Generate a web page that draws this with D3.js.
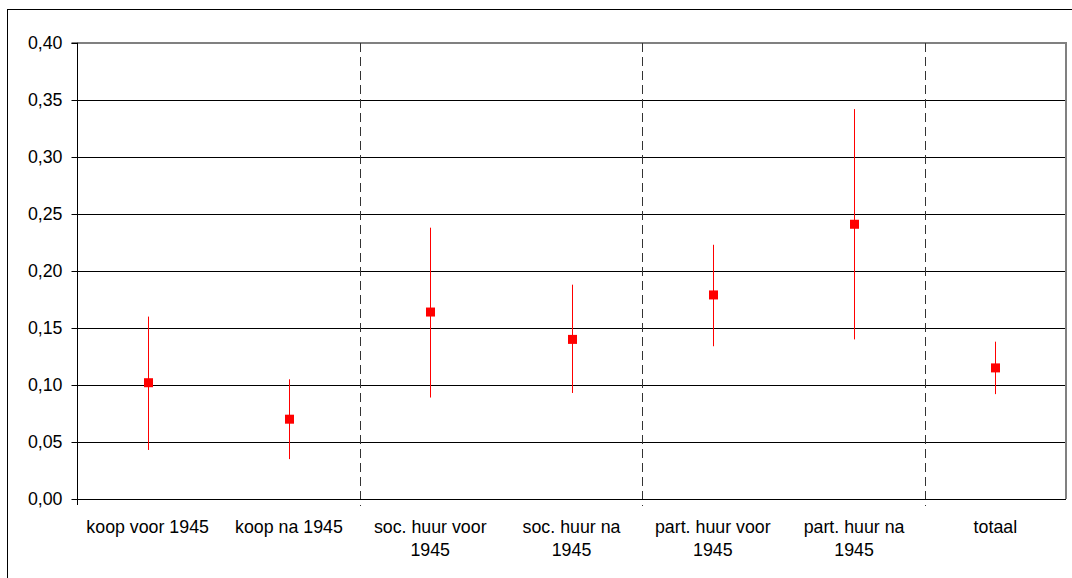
<!DOCTYPE html>
<html><head><meta charset="utf-8">
<script src="https://cdn.jsdelivr.net/npm/d3@7"></script>
<style>
body{margin:0;background:#fff;}
svg{display:block;font-family:Arial,"Liberation Sans",sans-serif;}
</style></head>
<body>
<svg id="chart" width="1072" height="578"></svg>
<script>
const categories = ["koop voor 1945","koop na 1945","soc. huur voor 1945","soc. huur na 1945","part. huur voor 1945","part. huur na 1945","totaal"];
const labelLines = [["koop voor 1945"],["koop na 1945"],["soc. huur voor","1945"],["soc. huur na","1945"],["part. huur voor","1945"],["part. huur na","1945"],["totaal"]];
const estimate = [0.102, 0.070, 0.164, 0.140, 0.179, 0.241, 0.115];
const lower    = [0.043, 0.035, 0.089, 0.093, 0.134, 0.140, 0.092];
const upper    = [0.160, 0.105, 0.238, 0.188, 0.223, 0.342, 0.138];
const yTicks = [0, 0.05, 0.10, 0.15, 0.20, 0.25, 0.30, 0.35, 0.40];
const separatorsAfter = [1, 3, 5]; // group boundaries after these category indices

const svg = d3.select("#chart");
const L = 77, R = 1066, T = 43, B = 499;

// outer border
svg.append("rect").attr("x",7.5).attr("y",9.5).attr("width",1200).attr("height",700)
  .attr("fill","none").attr("stroke","#000").attr("stroke-width",1);

const x = d3.scaleBand().domain(categories).range([L, R]).padding(0);
const y = d3.scaleLinear().domain([0, 0.4]).range([B, T]);
const fmt = d3.format(".2f");

// gridlines
svg.append("g").selectAll("line").data(yTicks.filter(v => v > 0 && v < 0.4)).join("line")
  .attr("x1", L).attr("x2", R)
  .attr("y1", d => Math.round(y(d)) + 0.5).attr("y2", d => Math.round(y(d)) + 0.5)
  .attr("stroke", "#000").attr("stroke-width", 1);

// plot frame top & right (gray)
svg.append("line").attr("x1", L).attr("x2", R + 1).attr("y1", T).attr("y2", T)
  .attr("stroke", "#808080").attr("stroke-width", 2);
svg.append("line").attr("x1", R).attr("x2", R).attr("y1", T).attr("y2", B)
  .attr("stroke", "#808080").attr("stroke-width", 2);

// separators (dashed)
svg.append("g").selectAll("line").data(separatorsAfter).join("line")
  .attr("x1", i => Math.round(x(categories[i]) + x.bandwidth()) + 0.5)
  .attr("x2", i => Math.round(x(categories[i]) + x.bandwidth()) + 0.5)
  .attr("y1", T).attr("y2", B + 7)
  .attr("stroke", "#333").attr("stroke-width", 1).attr("stroke-dasharray", "9,5");

// y axis
const yAxis = svg.append("g").attr("transform", `translate(${L + 0.5},0)`)
  .call(d3.axisLeft(y).tickValues(yTicks).tickSize(6).tickPadding(9)
    .tickFormat(d => fmt(d).replace(".", ",")));
yAxis.select(".domain").attr("d", `M-6,${T}H0V${B + 6}`).attr("stroke", "#000");
yAxis.selectAll(".tick line").attr("stroke", "#000");
yAxis.selectAll(".tick text").attr("font-size", 17.8).attr("fill", "#000")
  .attr("font-family", "Arial, 'Liberation Sans', sans-serif");

// x axis
const xAxis = svg.append("g").attr("transform", `translate(0,${B + 0.5})`)
  .call(d3.axisBottom(x).tickSize(0).tickPadding(0));
xAxis.select(".domain").attr("d", `M${L},0H${R}`).attr("stroke", "#000");
xAxis.selectAll(".tick text").each(function(d, i) {
  const t = d3.select(this);
  t.text(null).attr("y", 0).attr("dy", null).attr("font-size", 17.8).attr("fill", "#000")
    .attr("font-family", "Arial, 'Liberation Sans', sans-serif");
  labelLines[i].forEach((line, j) => {
    t.append("tspan").attr("x", 0).attr("y", 33 + j * 23).text(line);
  });
});

// error bars
const cx = c => x(c) + x.bandwidth() / 2;
svg.append("g").selectAll("line").data(categories).join("line")
  .attr("x1", c => Math.round(cx(c)) + 0.5).attr("x2", c => Math.round(cx(c)) + 0.5)
  .attr("y1", (c, i) => y(lower[i])).attr("y2", (c, i) => y(upper[i]))
  .attr("stroke", "#ff0000").attr("stroke-width", 1);

// markers
svg.append("g").selectAll("rect").data(categories).join("rect")
  .attr("x", c => Math.round(cx(c)) + 0.5 - 4.5).attr("y", (c, i) => y(estimate[i]) - 4.5)
  .attr("width", 9).attr("height", 9).attr("fill", "#ff0000");
</script>
</body></html>
